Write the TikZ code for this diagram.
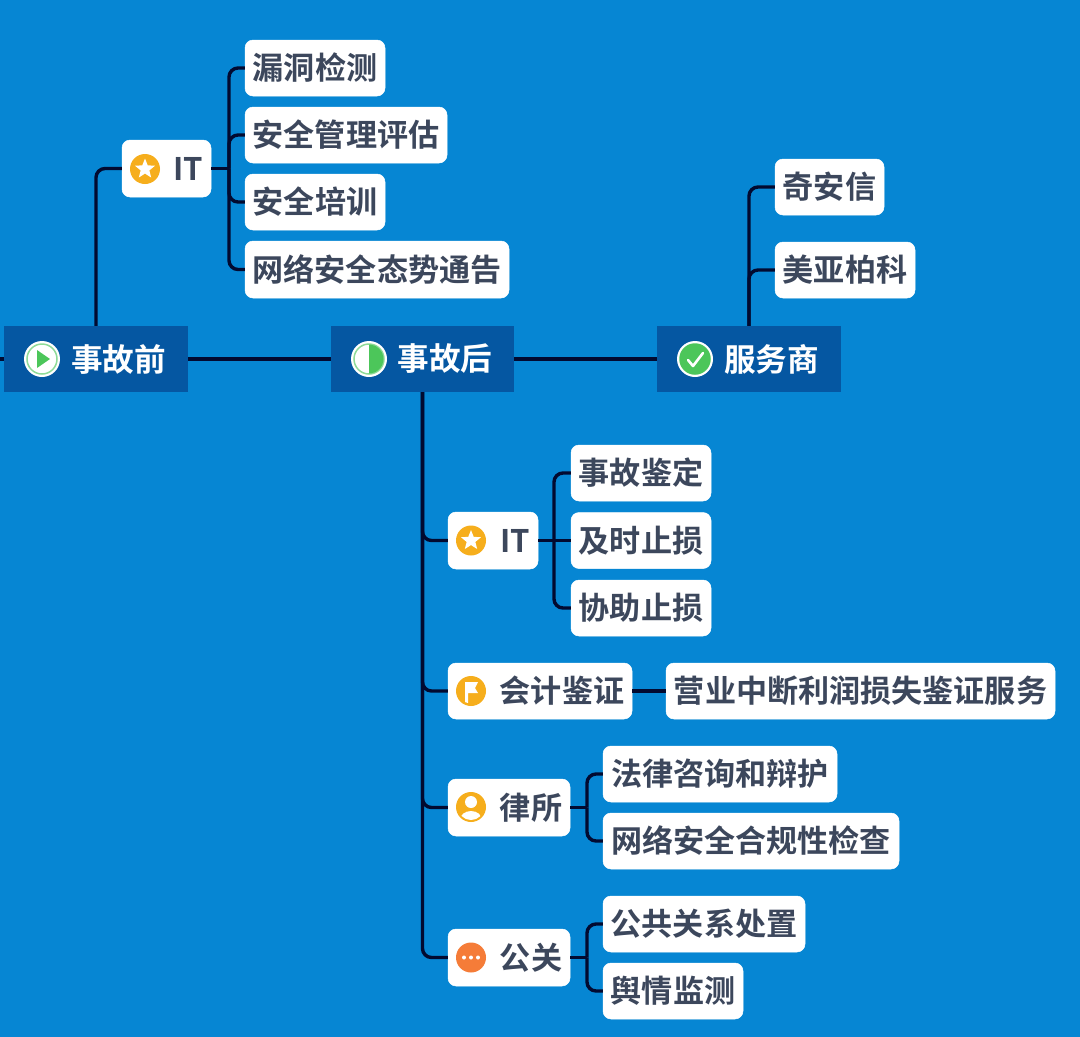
\documentclass[tikz,border=0pt]{standalone}
\usepackage{fontspec}
\setmainfont{Noto Sans CJK SC}[BoldFont={Noto Sans CJK SC Bold}]
\usetikzlibrary{shapes.geometric}
\definecolor{bgblue}{HTML}{0686D3}
\definecolor{mainblue}{HTML}{0557A2}
\definecolor{linecol}{HTML}{020A30}
\definecolor{txt}{HTML}{3C475C}
\definecolor{amber}{HTML}{F6AE1C}
\definecolor{orng}{HTML}{F57C38}
\definecolor{grn}{HTML}{4CC65A}
\definecolor{lgrn}{HTML}{8FDB98}
\tikzset{
  x=1pt,y=-1pt,
  leaf/.style={fill=white,draw=white,line width=.5pt,rounded corners=8pt,inner sep=0pt,text=txt,
    font=\fontsize{31.1}{36}\selectfont\bfseries,minimum height=56pt},
  mainbox/.style={fill=mainblue,inner sep=0pt,text=white,minimum height=66pt,
    font=\fontsize{31.6}{36}\selectfont\bfseries},
  conn/.style={draw=linecol,line width=3.4pt,rounded corners=9pt},
  mainconn/.style={draw=linecol,line width=4pt},
  icon/.style={circle,inner sep=0pt,minimum size=30pt,fill=amber},
  bigicon/.style={circle,inner sep=0pt,minimum size=30pt,fill=white,draw=lgrn,line width=1.5pt},
  halo/.style={circle,inner sep=0pt,minimum size=36pt,fill=white},
  staricon/.style={star,star points=5,star point ratio=2.3,fill=white,inner sep=0pt,minimum size=21pt},
}
\newcommand{\ic}{\hspace*{44pt}}
\newcommand{\icm}{\hspace*{45pt}}
\begin{document}
\begin{tikzpicture}
\useasboundingbox[fill=bgblue] (0,0) rectangle (1080,1037);
% main topics
\node[mainbox,minimum width=184pt] (qian) at (96,359) {\icm 事故前};
\node[mainbox,minimum width=183pt] (hou) at (422.5,359) {\icm 事故后};
\node[mainbox,minimum width=184pt] (fws) at (749,359) {\icm 服务商};
\coordinate (stub) at (0,359);
% before the incident
\node[leaf,minimum width=89pt,minimum height=57pt] (ita) at (166.5,168.5) {\ic IT};
\node[leaf,minimum width=140pt] (a1) at (315,68) {漏洞检测};
\node[leaf,minimum width=202pt] (a2) at (346,135) {安全管理评估};
\node[leaf,minimum width=140pt] (a3) at (315,202) {安全培训};
\node[leaf,minimum width=264pt,minimum height=57pt] (a4) at (377,269.5) {网络安全态势通告};
% providers
\node[leaf,minimum width=109pt] (f1) at (829.5,187) {奇安信};
\node[leaf,minimum width=140pt] (f2) at (845,270) {美亚柏科};
% after the incident
\node[leaf,minimum width=90pt,minimum height=57pt] (itb) at (493,540.5) {\ic IT};
\node[leaf,minimum width=140pt] (b1) at (641,473) {事故鉴定};
\node[leaf,minimum width=140pt] (b2) at (641,540.5) {及时止损};
\node[leaf,minimum width=140pt] (b3) at (641,608) {协助止损};
\node[leaf,minimum width=184pt] (acc) at (540,691) {\ic 会计鉴证};
\node[leaf,minimum width=389pt] (c1) at (860.5,691) {营业中断利润损失鉴证服务};
\node[leaf,minimum width=122pt,minimum height=57pt] (law) at (509,807.5) {\ic 律所};
\node[leaf,minimum width=234pt] (d1) at (720,774) {法律咨询和辩护};
\node[leaf,minimum width=296pt] (d2) at (751,841) {网络安全合规性检查};
\node[leaf,minimum width=122pt,minimum height=57pt] (pr) at (509,957.5) {\ic 公关};
\node[leaf,minimum width=202pt] (e1) at (704,924) {公共关系处置};
\node[leaf,minimum width=140pt] (e2) at (673,991) {舆情监测};
% junctions
\coordinate (ja) at (229,168.5);
\coordinate (jb) at (554,540.5);
\coordinate (jd) at (587,807.5);
\coordinate (je) at (587,957.5);
% connectors
\draw[mainconn] (stub) -- (qian.west);
\draw[mainconn] (qian.east) -- (hou.west);
\draw[mainconn] (hou.east) -- (fws.west);
\draw[conn] (qian.north) |- (ita.west);
\draw[conn] (ita.east) -- (ja);
\foreach \n in {a1,a2,a3,a4} \draw[conn] (ja) |- (\n.west);
\foreach \n in {f1,f2} \draw[conn] (fws.north) |- (\n.west);
\foreach \n in {itb,acc,law,pr} \draw[conn] (hou.south) |- (\n.west);
\draw[conn] (itb.east) -- (b2.west);
\foreach \n in {b1,b3} \draw[conn] (jb) |- (\n.west);
\draw[conn] (acc.east) -- (c1.west);
\draw[conn] (law.east) -- (jd);
\foreach \n in {d1,d2} \draw[conn] (jd) |- (\n.west);
\draw[conn] (pr.east) -- (je);
\foreach \n in {e1,e2} \draw[conn] (je) |- (\n.west);
% icons of the main topics
\node[halo] (hq) at (42,359) {};
\node[bigicon] (iq) at (42,359) {};
\fill[grn] (37,350) -- (50,359) -- (37,368) -- cycle;
\node[halo] (hh) at (369,359) {};
\node[bigicon] (ih) at (369,359) {};
\fill[grn] (369,344.5) arc[start angle=-90,end angle=90,radius=14.5] -- cycle;
\node[halo] (hf) at (695,359) {};
\node[bigicon,fill=grn,draw=grn] (if) at (695,359) {};
\draw[white,line width=2.6pt,line cap=round,line join=round] (688,360) -- (693,366) -- (703,353);
% icons of the boxes
\node[icon] (i1) at (145,169) {};
\node[staricon] (s1) at (145,169) {};
\node[icon] (i2) at (471,540.5) {};
\node[staricon] (s2) at (471,540.5) {};
\node[icon] (i3) at (471,691) {};
\fill[white] (465,682) -- (478,682) -- (475,688) -- (478,693) -- (468,693) -- (468,703) -- (465,702) -- cycle;
\node[icon] (i4) at (471,807) {};
\begin{scope}
  \clip (471,807) circle[radius=13];
  \fill[white] (471,802) circle[radius=6];
  \fill[white] (471,820) ellipse[x radius=11,y radius=9];
\end{scope}
\node[icon,fill=orng] (i5) at (471,957.5) {};
\foreach \x in {464,471,478} \fill[white] (\x,957.5) circle[radius=2];
\end{tikzpicture}
\end{document}
